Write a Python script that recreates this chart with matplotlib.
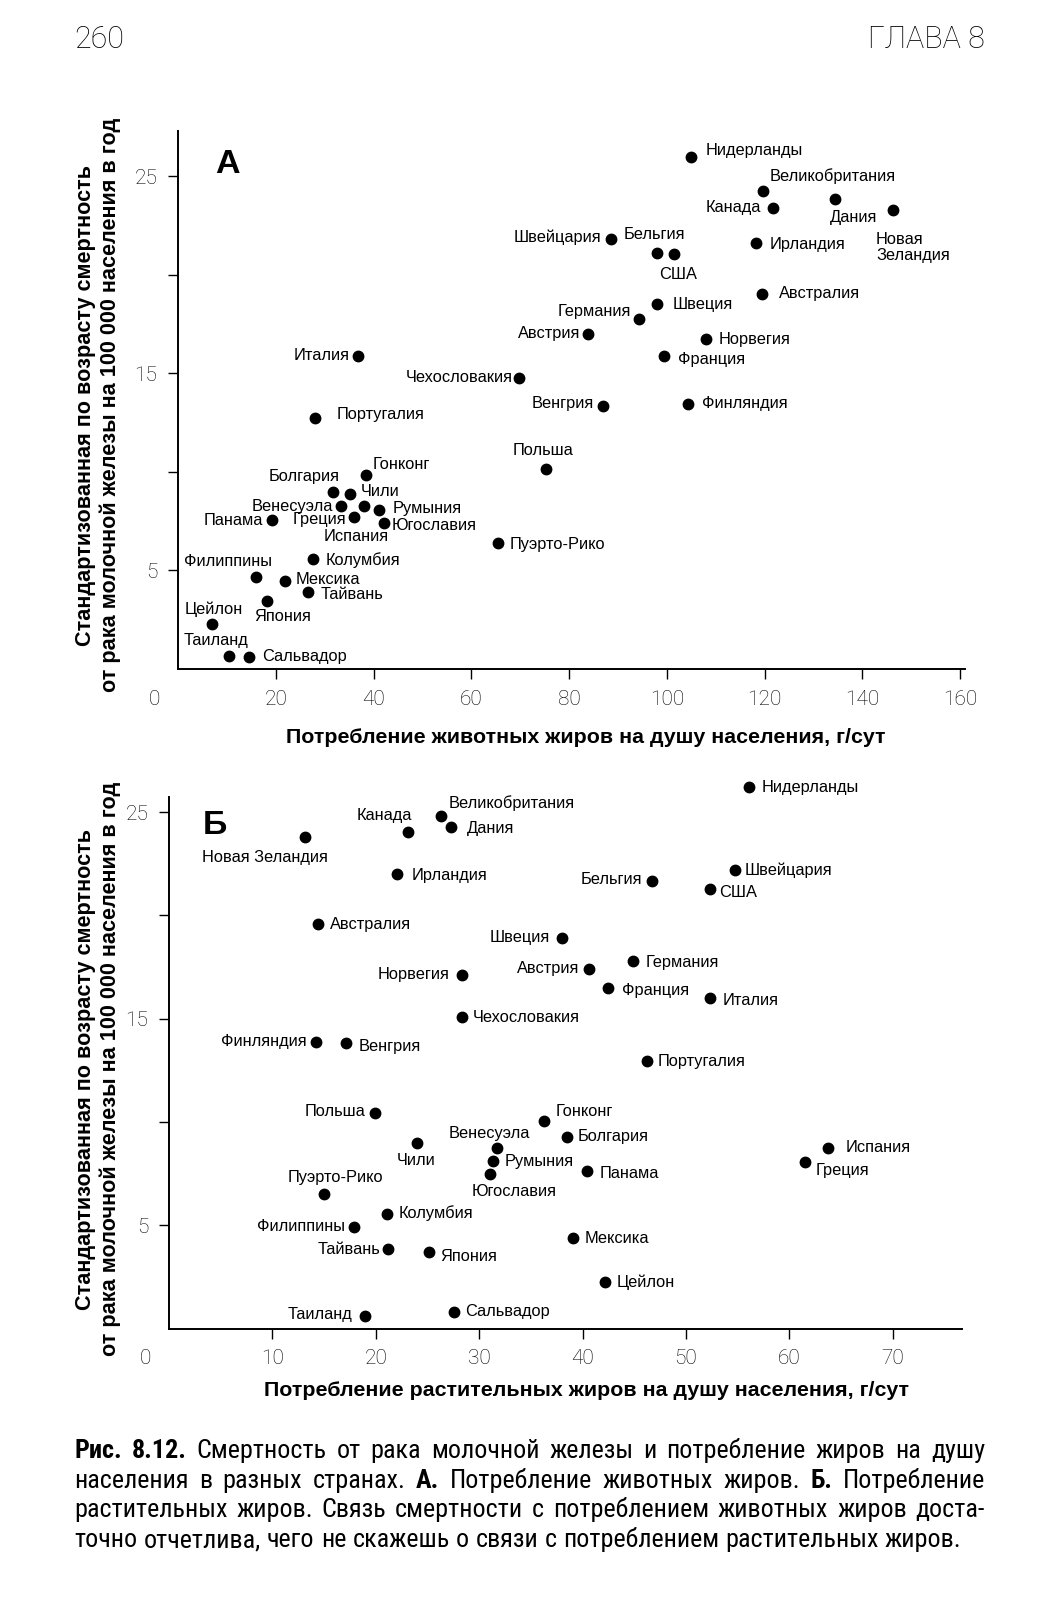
import matplotlib
matplotlib.use("Agg")
import matplotlib.pyplot as plt
from matplotlib import font_manager
from matplotlib.ticker import FixedLocator, NullFormatter

# --- data -------------------------------------------------------------------
countries = [
    "Нидерланды", "Великобритания", "Канада", "Дания", "Новая Зеландия",
    "Швейцария", "Бельгия", "США", "Ирландия", "Австралия", "Швеция",
    "Германия", "Австрия", "Норвегия", "Франция", "Чехословакия", "Венгрия",
    "Финляндия", "Италия", "Португалия", "Польша", "Гонконг", "Болгария",
    "Чили", "Венесуэла", "Испания", "Румыния", "Греция", "Югославия",
    "Панама", "Пуэрто-Рико", "Колумбия", "Филиппины", "Мексика", "Тайвань",
    "Япония", "Цейлон", "Таиланд", "Сальвадор",
]

# panel A: animal fat intake (g/day) vs mortality
animal_fat = [105.0, 119.6, 121.7, 134.4, 146.2, 88.5, 98.0, 101.4, 118.3,
              119.5, 98.0, 94.3, 83.9, 108.1, 99.5, 69.7, 87.0, 104.4, 36.9,
              28.1, 75.2, 38.5, 31.75, 35.1, 33.4, 37.95, 41.2, 36.0, 42.1,
              19.3, 65.4, 27.7, 16.0, 21.9, 26.6, 18.3, 7.0, 10.5, 14.6]
mortality_a = [26.0, 24.26, 23.4, 23.84, 23.3, 21.83, 21.1, 21.05, 21.6,
               19.04, 18.53, 17.77, 17.0, 16.75, 15.9, 14.76, 13.37, 13.45,
               15.89, 12.73, 10.17, 9.83, 8.98, 8.88, 8.27, 8.27, 8.07, 7.70,
               7.39, 7.56, 6.38, 5.57, 4.65, 4.45, 3.91, 3.47, 2.28, 0.68, 0.63]

# panel B: vegetable fat intake (g/day) vs mortality
veg_fat = [56.1, 26.3, 23.1, 27.3, 13.2, 54.7, 46.7, 52.3, 22.1, 14.4, 38.0,
           44.9, 40.6, 28.3, 42.5, 28.3, 17.1, 14.2, 52.3, 46.2, 19.9, 36.3,
           38.5, 23.95, 31.7, 63.7, 31.3, 61.5, 31.0, 40.4, 15.0, 21.1, 17.9,
           39.1, 21.15, 25.1, 42.2, 19.0, 27.6]
mortality_b = [26.2, 24.8, 24.05, 24.26, 23.8, 22.2, 21.65, 21.3, 22.0, 19.6,
               18.9, 17.8, 17.4, 17.1, 16.5, 15.1, 13.8, 13.85, 16.0, 12.94,
               10.44, 10.04, 9.28, 8.96, 8.73, 8.72, 8.09, 8.07, 7.47, 7.62,
               6.52, 5.52, 4.9, 4.36, 3.86, 3.7, 2.26, 0.62, 0.81]

xticks_a = [20, 40, 60, 80, 100, 120, 140, 160]
xticks_b = [10, 20, 30, 40, 50, 60, 70]
yticks_major = [5, 15, 25]
yticks_minor = [10, 20]

# label placement: (ha, dx px, dy px downwards) relative to the dot
label_pos_a = [
    ("left", 14.7, -6), ("left", 6.7, -15), ("right", -12.3, 0),
    ("center", 19, 18), ("left", -16.7, 37.7), ("right", -9.3, -1.7),
    ("center", -2.7, -19), ("center", 4.7, 20.7), ("left", 13.3, 0.7),
    ("left", 16.7, 0), ("left", 15.7, 1), ("right", -7.7, -7.3),
    ("right", -8, -0.7), ("left", 12.7, 1), ("left", 13.3, 3.7),
    ("right", -6, -1), ("right", -9, -1.7), ("left", 13.3, 0),
    ("right", -9, 0), ("left", 21, -3.3), ("center", -2.7, -17.7),
    ("left", 6.7, -10.3), ("right", 6.3, -15.3), ("left", 10.7, -2.3),
    ("right", -8.3, 0), ("center", -7.3, 30.7), ("left", 13.7, -1.7),
    ("right", -8, 2.7), ("left", 8.3, 2.3), ("right", -9.3, 0),
    ("left", 11.7, 1), ("left", 12, 0.7), ("center", -28.3, -15.7),
    ("left", 11, -2.3), ("left", 12.3, 3), ("center", 15.3, 16),
    ("center", 1.3, -15), ("center", -13, -14.7), ("left", 12.7, 0),
]
label_pos_b = [
    ("left", 12.3, 0.7), ("left", 7.7, -12.7), ("center", -24, -16),
    ("left", 15.7, 1.3), ("center", -40.7, 21), ("left", 9.7, 0.7),
    ("right", -9.7, -2), ("left", 9.7, 4), ("left", 13.7, 1.7),
    ("left", 12.3, 1.3), ("right", -12.3, -1), ("left", 12.7, 1.7),
    ("right", -9.7, -1), ("right", -12, -1), ("left", 14, 3.3),
    ("left", 11.3, 0.7), ("left", 13.3, 3.3), ("right", -9, -1.3),
    ("left", 13.3, 2.3), ("left", 11.3, 0.7), ("right", -9, -1.7),
    ("left", 11, -10), ("left", 10.7, 0), ("center", 0, 17.3),
    ("center", -7.3, -14.7), ("left", 17.7, -1), ("left", 11.7, 0),
    ("left", 10.7, 9), ("center", 25, 17.7), ("left", 13.3, 2.3),
    ("center", 11.3, -16), ("left", 11.7, -1), ("right", -9, -0.7),
    ("left", 11.3, 0), ("right", -7.7, 0.3), ("left", 11.7, 4.7),
    ("left", 11.3, 0.7), ("right", -13, -1.3), ("left", 11, -0.7),
]

ylabel_text = ("Стандартизованная по возрасту смертность\n"
               "от рака молочной железы на 100 000 населения в год")
xlabel_a = "Потребление животных жиров на душу населения, г/сут"
xlabel_b = "Потребление растительных жиров на душу населения, г/сут"

caption_lines = [
    [("Рис. 8.12.", True),
     ("Смертность от рака молочной железы и потребление жиров на душу", False)],
    [("населения в разных странах.", False), ("А.", True),
     ("Потребление животных жиров.", False), ("Б.", True), ("Потребление", False)],
    [("растительных жиров. Связь смертности с потреблением животных жиров доста-", False)],
    [("точно отчетлива, чего не скажешь о связи с потреблением растительных жиров.", False)],
]

# --- fonts ------------------------------------------------------------------
W, H, DPI = 1053, 1600, 100
available = {f.name for f in font_manager.fontManager.ttflist}


def pick(names):
    for n in names:
        if n in available:
            return n
    return "DejaVu Sans"


label_font = pick(["Liberation Sans", "Roboto"])
tick_font = pick(["Roboto", "Liberation Sans"])
cap_font = pick(["Liberation Sans Narrow", "Roboto Condensed", "Liberation Sans"])

fig = plt.figure(figsize=(W / DPI, H / DPI), dpi=DPI)
fig.patch.set_facecolor("white")


def px(x, y):
    return x / W, 1 - y / H


def make_panel(rect, xmax, ymax, xticks, xs, ys, positions, letter, letter_xy):
    left, top, right, bottom = rect
    ax = fig.add_axes([left / W, 1 - bottom / H, (right - left) / W, (bottom - top) / H])
    ax.set_xlim(0, xmax)
    ax.set_ylim(0, ymax)
    for s in ["top", "right"]:
        ax.spines[s].set_visible(False)
    for s in ["left", "bottom"]:
        ax.spines[s].set_linewidth(1.4)
    ax.xaxis.set_major_locator(FixedLocator(xticks))
    ax.yaxis.set_major_locator(FixedLocator(yticks_major))
    ax.yaxis.set_minor_locator(FixedLocator(yticks_minor))
    ax.yaxis.set_minor_formatter(NullFormatter())
    ax.tick_params(which="both", direction="out", length=7, width=1.0,
                   labelsize=15, pad=8)
    for lab in ax.get_xticklabels() + ax.get_yticklabels():
        lab.set_fontfamily(tick_font)
        lab.set_fontweight("light")
    ax.plot(xs, ys, "o", color="black", ms=7.5, clip_on=False)
    for name, x, y, (ha, dx, dy) in zip(countries, xs, ys, positions):
        if name == "Новая Зеландия" and ha == "left":
            name = "Новая\nЗеландия"
        ax.annotate(name, (x, y), xytext=(dx, -dy), textcoords="offset pixels",
                    ha=ha, va="center", fontsize=11.8, family=label_font,
                    linespacing=1.15, annotation_clip=False)
    # origin label
    ax.annotate("0", (0, 0), xytext=(-24, -30), textcoords="offset pixels",
                ha="center", va="center", fontsize=15, family=tick_font,
                fontweight="light", annotation_clip=False)
    fig.text(*px(*letter_xy), letter, fontsize=24.5, fontweight="bold",
             family=label_font, ha="left", va="baseline")
    return ax


ax_a = make_panel((178, 131, 965, 669), 161, 27.3, xticks_a, animal_fat,
                  mortality_a, label_pos_a, "А", (215, 173))
ax_b = make_panel((169, 797, 962, 1328.5), 76.7, 25.73, xticks_b, veg_fat,
                  mortality_b, label_pos_b, "Б", (203, 834))

# axis titles
for yc in (405, 1069):
    fig.text(*px(98, yc), ylabel_text, rotation=90, ha="center", va="center",
             fontsize=15.6, fontweight="bold", family=label_font, linespacing=1.25)
fig.text(*px(586, 738), xlabel_a, ha="center", va="center", fontsize=15.4,
         fontweight="bold", family=label_font)
fig.text(*px(586, 1391), xlabel_b, ha="center", va="center", fontsize=15.4,
         fontweight="bold", family=label_font)

# page header
fig.text(*px(74, 48), "260", ha="left", va="baseline", fontsize=22,
         family=tick_font, fontweight="light")
fig.text(*px(985, 48), "ГЛАВА 8", ha="right", va="baseline", fontsize=22,
         family=tick_font, fontweight="light")

# caption, justified like the book
renderer = fig.canvas.get_renderer()
cap_size = 18.8
x0, x1 = 74, 985
for i, segs in enumerate(caption_lines):
    words = []
    for text, bold in segs:
        for w in text.split():
            words.append((w, bold))
    arts, widths = [], []
    for w, b in words:
        t = fig.text(0, 0, w, fontsize=cap_size, family=cap_font,
                     fontweight="bold" if b else "normal", ha="left", va="baseline")
        arts.append(t)
        widths.append(t.get_window_extent(renderer).width)
    if i < len(caption_lines) - 1:
        gap = (x1 - x0 - sum(widths)) / (len(words) - 1)
    else:
        gap = cap_size * DPI / 72 * 0.24
    x = x0
    yb = 1458 + i * 29.7
    for t, wd in zip(arts, widths):
        t.set_position(px(x, yb))
        x += wd + gap

fig.savefig("out.png", dpi=DPI, facecolor="white")
